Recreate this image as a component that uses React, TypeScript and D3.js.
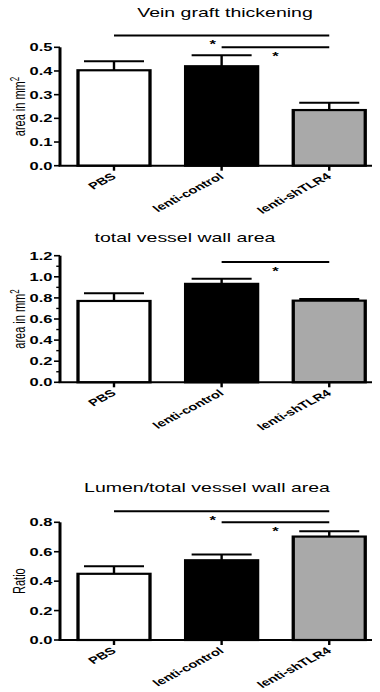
import React from 'react';
import * as d3 from 'd3';

const W = 380;
const H = 692;
// the figure is stretched sideways, so everything is drawn in a narrower frame and scaled
const SX = 1.5;

const categories = ['PBS', 'lenti-control', 'lenti-shTLR4'];

const thickeningMean = [0.403, 0.42, 0.235];
const thickeningErr = [0.038, 0.046, 0.031];
const thickeningTicks = [0, 0.1, 0.2, 0.3, 0.4, 0.5];
const thickeningSig = [
  {from: 0, to: 2, at: 0.55},
  {from: 1, to: 2, at: 0.5},
];

const wallMean = [0.771, 0.933, 0.774];
const wallErr = [0.074, 0.048, 0.016];
const wallTicks = [0, 0.2, 0.4, 0.6, 0.8, 1.0, 1.2];
const wallMinor = [0.1, 0.3, 0.5, 0.7, 0.9, 1.1];
const wallSig = [{from: 1, to: 2, at: 1.14}];

const ratioMean = [0.45, 0.542, 0.703];
const ratioErr = [0.052, 0.039, 0.036];
const ratioTicks = [0, 0.2, 0.4, 0.6, 0.8];
const ratioSig = [
  {from: 0, to: 2, at: 0.875},
  {from: 1, to: 2, at: 0.8},
];

const FILLS = ['#ffffff', '#000000', '#a9a9a9'];
const FONT = 'Liberation Sans, Arial, sans-serif';

const x = d3.scalePoint<string>().domain(categories).range([76, 219.5]);
const BAR_W = 48;
const AXIS_X = 40;
const AXIS_END = 248;

type Sig = {from: number, to: number, at: number};

const Panel = ({title, titleX, titleY, yLabel, sup, mean, err, ticks, minor, top, bottom, max, sig}: any) => {
  const y = d3.scaleLinear().domain([0, max]).range([bottom, top]);
  const mid = (top + bottom) / 2;
  return (
    <g>
      <text x={titleX / SX} y={titleY} fontSize={13} textAnchor="middle" fontFamily={FONT}>{title}</text>

      {/* y axis */}
      <line x1={AXIS_X} x2={AXIS_X} y1={y(max)} y2={bottom} stroke="#000" strokeWidth={2} />
      {ticks.map((t: number) => (
        <g key={'t' + t}>
          <line x1={AXIS_X - 4} x2={AXIS_X} y1={y(t)} y2={y(t)} stroke="#000" strokeWidth={1.6} />
          <text x={AXIS_X - 5} y={y(t)} dy="0.36em" textAnchor="end" fontSize={11}
                fontWeight="bold" fontFamily={FONT}>{d3.format('.1f')(t)}</text>
        </g>
      ))}
      {(minor || []).map((t: number) => (
        <line key={'m' + t} x1={AXIS_X - 2.5} x2={AXIS_X} y1={y(t)} y2={y(t)} stroke="#000" strokeWidth={1.4} />
      ))}
      <text transform={`translate(16.5,${mid}) rotate(-90)`} textAnchor="middle" fontSize={11} fontFamily={FONT}>
        {yLabel}{sup ? <tspan dy={-4} fontSize={8}>2</tspan> : null}
      </text>

      {/* bars */}
      {categories.map((c, i) => {
        const cx = x(c)!;
        const v = y(mean[i]);
        const e = y(mean[i] + err[i]);
        return (
          <g key={c}>
            <line x1={cx} x2={cx} y1={v} y2={e} stroke="#000" strokeWidth={1.6} />
            <line x1={cx - 20} x2={cx + 20} y1={e} y2={e} stroke="#000" strokeWidth={2} />
            <rect x={cx - BAR_W / 2} y={v} width={BAR_W} height={bottom - v}
                  fill={FILLS[i]} stroke="#000" strokeWidth={2.2} />
          </g>
        );
      })}

      {/* x axis */}
      <line x1={AXIS_X - 1} x2={AXIS_END} y1={bottom} y2={bottom} stroke="#000" strokeWidth={2} />
      {categories.map(c => (
        <g key={'x' + c}>
          <line x1={x(c)} x2={x(c)} y1={bottom} y2={bottom + 5} stroke="#000" strokeWidth={1.6} />
          <text transform={`translate(${x(c)! + 2},${bottom + 12}) rotate(-38)`} textAnchor="end"
                fontSize={9.8} fontWeight="bold" fontFamily={FONT}>{c}</text>
        </g>
      ))}

      {/* significance */}
      {sig.map((s: Sig, k: number) => {
        const x1 = x(categories[s.from])!;
        const x2 = x(categories[s.to])!;
        const wide = s.to - s.from > 1;
        const sx = (x1 + x2) / 2 - (wide ? 6 : 0);
        return (
          <g key={'s' + k}>
            <line x1={x1} x2={x2} y1={y(s.at)} y2={y(s.at)} stroke="#000" strokeWidth={2} />
            <text x={sx} y={y(s.at) + 13} textAnchor="middle" fontSize={11} fontWeight="bold"
                  fontFamily={FONT}>*</text>
          </g>
        );
      })}
    </g>
  );
};

export default function App() {
  return (
    <svg width={W} height={H} style={{position: 'absolute', left: 0, top: 0, background: '#fff'}}>
      <g transform={`scale(${SX},1)`}>
        <Panel title="Vein graft thickening" titleX={225} titleY={17} yLabel="area in mm" sup
               mean={thickeningMean} err={thickeningErr} ticks={thickeningTicks}
               top={47.3} bottom={165.7} max={0.5} sig={thickeningSig} />
        <Panel title="total vessel wall area" titleX={185} titleY={242} yLabel="area in mm" sup
               mean={wallMean} err={wallErr} ticks={wallTicks} minor={wallMinor}
               top={255.7} bottom={382.3} max={1.2} sig={wallSig} />
        <Panel title="Lumen/total vessel wall area" titleX={207} titleY={492} yLabel="Ratio"
               mean={ratioMean} err={ratioErr} ticks={ratioTicks}
               top={522.3} bottom={640} max={0.8} sig={ratioSig} />
      </g>
    </svg>
  );
}
